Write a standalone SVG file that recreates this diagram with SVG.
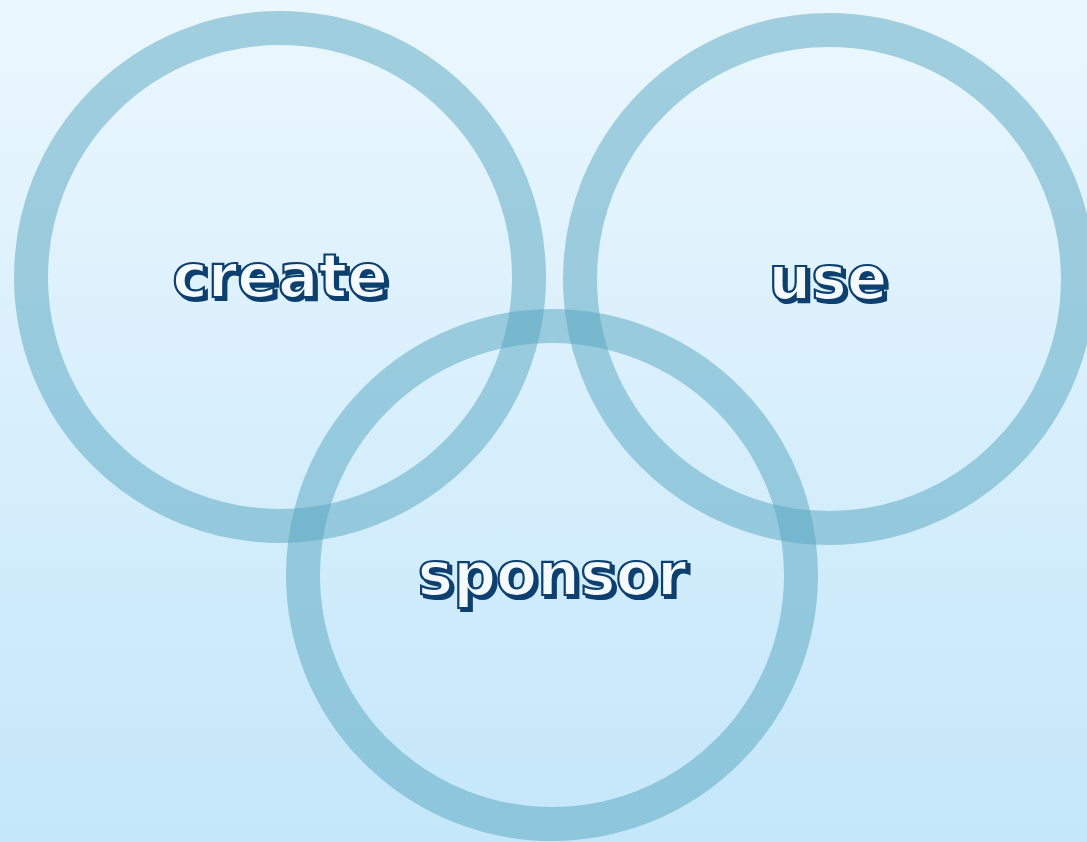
<svg xmlns="http://www.w3.org/2000/svg" width="1087" height="842" viewBox="0 0 1087 842">
<defs>
<linearGradient id="bg" x1="0" y1="0" x2="0" y2="1">
<stop offset="0" stop-color="#ebf7fe"/>
<stop offset="1" stop-color="#c4e7fa"/>
</linearGradient>
<filter id="shadow" x="-10%" y="-20%" width="130%" height="150%">
<feOffset in="SourceAlpha" dx="2.5" dy="2.5" result="off"/>
<feFlood flood-color="#0d3f6e"/>
<feComposite in2="off" operator="in" result="sh"/>
<feMerge><feMergeNode in="sh"/><feMergeNode in="SourceGraphic"/></feMerge>
</filter>
</defs>
<style>
.ring{fill:none;stroke:#55a6c0;stroke-opacity:0.5;stroke-width:34}
.lbl{font-family:"DejaVu Sans",sans-serif;font-weight:bold;font-size:60px;text-anchor:middle;fill:#f4faff;stroke:#0d3f6e;stroke-width:2.2;filter:url(#shadow)}
</style>
<rect width="1087" height="842" fill="url(#bg)"/>
<g id="connectors"/>
<g id="create">
<circle class="ring" cx="280" cy="277" r="249"/>
<text class="lbl" x="280" y="297">create</text>
</g>
<g id="use">
<circle class="ring" cx="829" cy="279" r="249"/>
<text class="lbl" x="828" y="299">use</text>
</g>
<g id="sponsor">
<circle class="ring" cx="552" cy="575" r="249"/>
<text class="lbl" x="552" y="595">sponsor</text>
</g>
</svg>
